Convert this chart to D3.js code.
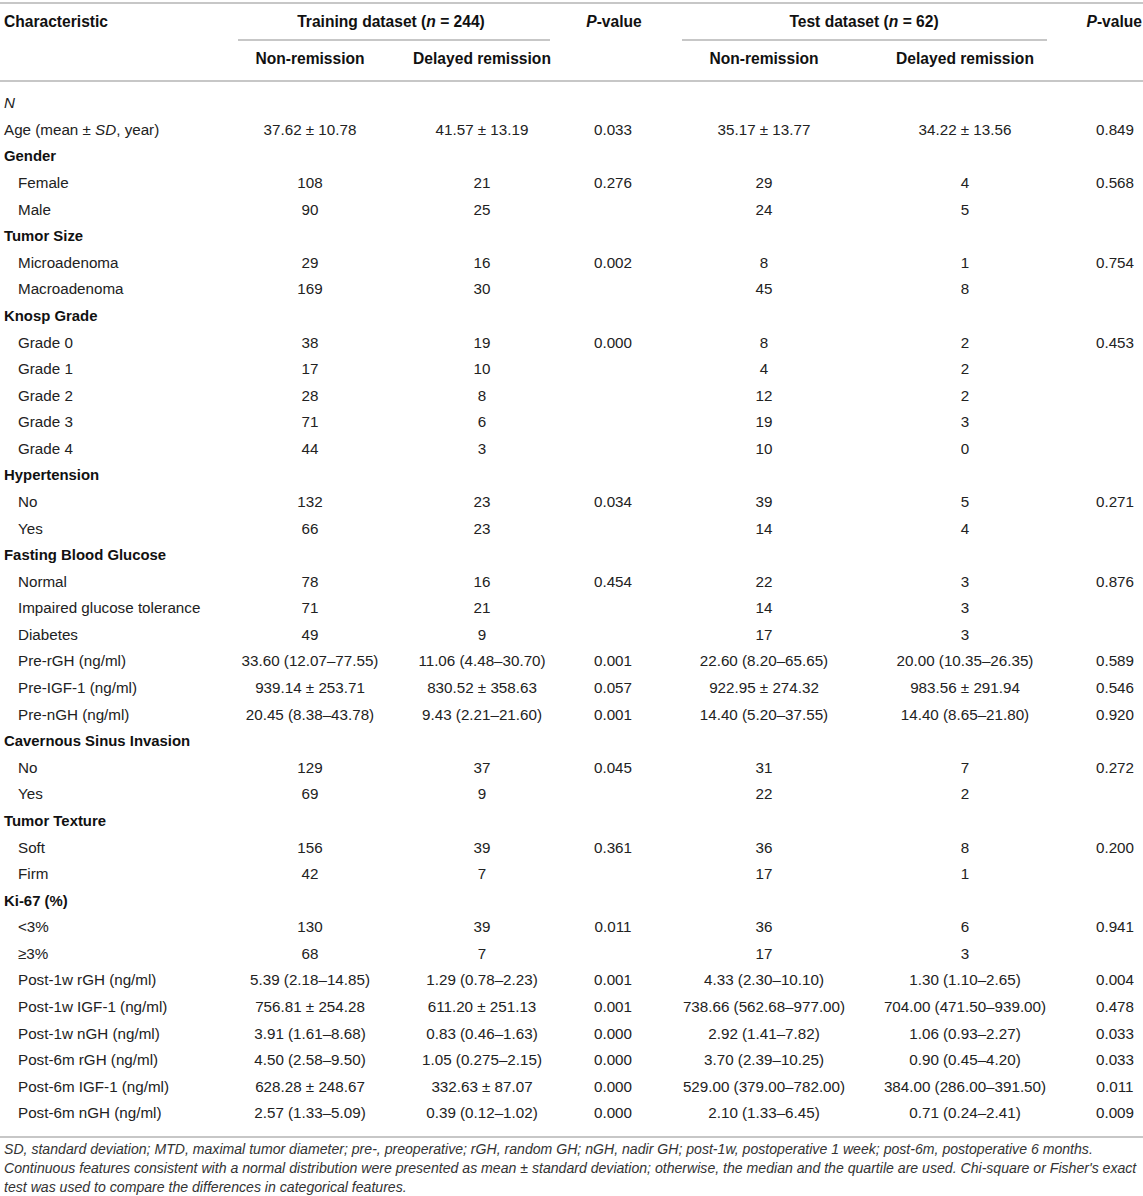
<!DOCTYPE html>
<html>
<head>
<meta charset="utf-8">
<script src="https://cdn.jsdelivr.net/npm/d3@7"></script>
<style>
  body { margin: 0; background: #fff; }
  text { font-family: "Liberation Sans", Arial, sans-serif; }
</style>
</head>
<body>
<script>
// Row labels, and how each one is drawn: g = bold group, s = indented, t = top level
const labels = [
  "N", "Age (mean ± SD, year)", "Gender", "Female", "Male", "Tumor Size", "Microadenoma", "Macroadenoma",
  "Knosp Grade", "Grade 0", "Grade 1", "Grade 2", "Grade 3", "Grade 4", "Hypertension", "No", "Yes",
  "Fasting Blood Glucose", "Normal", "Impaired glucose tolerance", "Diabetes",
  "Pre-rGH (ng/ml)", "Pre-IGF-1 (ng/ml)", "Pre-nGH (ng/ml)", "Cavernous Sinus Invasion", "No", "Yes",
  "Tumor Texture", "Soft", "Firm", "Ki-67 (%)", "<3%", "≥3%",
  "Post-1w rGH (ng/ml)", "Post-1w IGF-1 (ng/ml)", "Post-1w nGH (ng/ml)",
  "Post-6m rGH (ng/ml)", "Post-6m IGF-1 (ng/ml)", "Post-6m nGH (ng/ml)"
]
const kinds = [
  "t", "t", "g", "s", "s", "g", "s", "s",
  "g", "s", "s", "s", "s", "s", "g", "s", "s",
  "g", "s", "s", "s",
  "s", "s", "s", "g", "s", "s",
  "g", "s", "s", "g", "s", "s",
  "s", "s", "s",
  "s", "s", "s"
]

const trainNon = [
  "", "37.62 ± 10.78", "", "108", "90", "", "29", "169",
  "", "38", "17", "28", "71", "44", "", "132", "66",
  "", "78", "71", "49",
  "33.60 (12.07–77.55)", "939.14 ± 253.71", "20.45 (8.38–43.78)", "", "129", "69",
  "", "156", "42", "", "130", "68",
  "5.39 (2.18–14.85)", "756.81 ± 254.28", "3.91 (1.61–8.68)",
  "4.50 (2.58–9.50)", "628.28 ± 248.67", "2.57 (1.33–5.09)"
]
const trainDelayed = [
  "", "41.57 ± 13.19", "", "21", "25", "", "16", "30",
  "", "19", "10", "8", "6", "3", "", "23", "23",
  "", "16", "21", "9",
  "11.06 (4.48–30.70)", "830.52 ± 358.63", "9.43 (2.21–21.60)", "", "37", "9",
  "", "39", "7", "", "39", "7",
  "1.29 (0.78–2.23)", "611.20 ± 251.13", "0.83 (0.46–1.63)",
  "1.05 (0.275–2.15)", "332.63 ± 87.07", "0.39 (0.12–1.02)"
]
const trainP = [
  "", "0.033", "", "0.276", "", "", "0.002", "",
  "", "0.000", "", "", "", "", "", "0.034", "",
  "", "0.454", "", "",
  "0.001", "0.057", "0.001", "", "0.045", "",
  "", "0.361", "", "", "0.011", "",
  "0.001", "0.001", "0.000",
  "0.000", "0.000", "0.000"
]
const testNon = [
  "", "35.17 ± 13.77", "", "29", "24", "", "8", "45",
  "", "8", "4", "12", "19", "10", "", "39", "14",
  "", "22", "14", "17",
  "22.60 (8.20–65.65)", "922.95 ± 274.32", "14.40 (5.20–37.55)", "", "31", "22",
  "", "36", "17", "", "36", "17",
  "4.33 (2.30–10.10)", "738.66 (562.68–977.00)", "2.92 (1.41–7.82)",
  "3.70 (2.39–10.25)", "529.00 (379.00–782.00)", "2.10 (1.33–6.45)"
]
const testDelayed = [
  "", "34.22 ± 13.56", "", "4", "5", "", "1", "8",
  "", "2", "2", "2", "3", "0", "", "5", "4",
  "", "3", "3", "3",
  "20.00 (10.35–26.35)", "983.56 ± 291.94", "14.40 (8.65–21.80)", "", "7", "2",
  "", "8", "1", "", "6", "3",
  "1.30 (1.10–2.65)", "704.00 (471.50–939.00)", "1.06 (0.93–2.27)",
  "0.90 (0.45–4.20)", "384.00 (286.00–391.50)", "0.71 (0.24–2.41)"
]
const testP = [
  "", "0.849", "", "0.568", "", "", "0.754", "",
  "", "0.453", "", "", "", "", "", "0.271", "",
  "", "0.876", "", "",
  "0.589", "0.546", "0.920", "", "0.272", "",
  "", "0.200", "", "", "0.941", "",
  "0.004", "0.478", "0.033",
  "0.033", "0.011", "0.009"
]

const footnotes = [
  "SD, standard deviation; MTD, maximal tumor diameter; pre-, preoperative; rGH, random GH; nGH, nadir GH; post-1w, postoperative 1 week; post-6m, postoperative 6 months.",
  "Continuous features consistent with a normal distribution were presented as mean ± standard deviation; otherwise, the median and the quartile are used. Chi-square or Fisher's exact",
  "test was used to compare the differences in categorical features."
]

const columns = [trainNon, trainDelayed, trainP, testNon, testDelayed, testP]
const colKeys = ["trainNon", "trainDelayed", "trainP", "testNon", "testDelayed", "testP"]

const W = 1143, H = 1196
const lineColor = "#b4b4b4"
const textColor = "#222"

let svg = d3.select("body").append("svg")
  .attr("width", W)
  .attr("height", H)

// column centres
let x = d3.scaleOrdinal()
  .domain(colKeys)
  .range([310, 482, 613, 764, 965, 1115])

// row centres
let y = d3.scaleLinear()
  .domain([0, labels.length - 1])
  .range([103, 1113])

// rules
let rule = (x1, x2, yy) => svg.append("line")
  .attr("x1", x1).attr("x2", x2)
  .attr("y1", yy).attr("y2", yy)
  .attr("stroke", lineColor)
  .attr("stroke-width", 1.6)

rule(0, W, 3)
rule(238, 550, 40)
rule(682, 1047, 40)
rule(0, W, 81)
rule(0, W, 1137)

// header
let header = svg.append("g")
  .attr("font-weight", "bold")
  .attr("font-size", "15.6px")
  .attr("fill", "#111")

header.append("text")
  .attr("x", 4).attr("y", 27)
  .text("Characteristic")

let spanHead = (cx, n) => {
  let t = header.append("text")
    .attr("x", cx).attr("y", 27)
    .attr("text-anchor", "middle")
  t.append("tspan").text(n[0])
  t.append("tspan").attr("font-style", "italic").text("n")
  t.append("tspan").text(n[1])
}
spanHead(391, ["Training dataset (", " = 244)"])
spanHead(864, ["Test dataset (", " = 62)"])

let pHead = (px, anchor) => {
  let t = header.append("text")
    .attr("x", px).attr("y", 27)
    .attr("text-anchor", anchor)
  t.append("tspan").attr("font-style", "italic").text("P")
  t.append("tspan").text("-value")
}
pHead(614, "middle")
pHead(1142, "end")

header.selectAll("text.sub")
  .data([["trainNon", "Non-remission"], ["trainDelayed", "Delayed remission"],
         ["testNon", "Non-remission"], ["testDelayed", "Delayed remission"]])
  .enter()
  .append("text")
  .attr("class", "sub")
  .attr("x", d => x(d[0]))
  .attr("y", 64)
  .attr("text-anchor", "middle")
  .text(d => d[1])

// row labels
let body = svg.append("g")
  .attr("font-size", "15.2px")
  .attr("fill", textColor)

let rowLabel = body.selectAll("text.label")
  .data(labels)
  .enter()
  .append("text")
  .attr("class", "label")
  .attr("x", (d, i) => kinds[i] == "s" ? 18 : 4)
  .attr("y", (d, i) => y(i))
  .attr("dy", "0.35em")
  .attr("font-weight", (d, i) => kinds[i] == "g" ? "bold" : "normal")
  .attr("font-size", (d, i) => kinds[i] == "g" ? "14.9px" : null)
  .attr("fill", (d, i) => kinds[i] == "g" ? "#111" : textColor)

// italic bits: "N" and "SD"
rowLabel.each(function (d) {
  let t = d3.select(this)
  if (d == "N") {
    t.append("tspan").attr("font-style", "italic").text("N")
  } else if (d.includes("SD")) {
    let parts = d.split("SD")
    t.append("tspan").text(parts[0])
    t.append("tspan").attr("font-style", "italic").text("SD")
    t.append("tspan").text(parts[1])
  } else {
    t.text(d)
  }
})

// cells
columns.forEach((col, ci) => {
  body.selectAll("text.c" + ci)
    .data(col)
    .enter()
    .append("text")
    .attr("class", "c" + ci)
    .attr("x", x(colKeys[ci]))
    .attr("y", (d, i) => y(i))
    .attr("dy", "0.35em")
    .attr("text-anchor", "middle")
    .text(d => d)
})

// footnotes
svg.append("g")
  .attr("font-size", "14.1px")
  .attr("font-style", "italic")
  .attr("fill", "#333")
  .selectAll("text")
  .data(footnotes)
  .enter()
  .append("text")
  .attr("x", 4)
  .attr("y", (d, i) => 1154 + i * 18.8)
  .text(d => d)
</script>
</body>
</html>
